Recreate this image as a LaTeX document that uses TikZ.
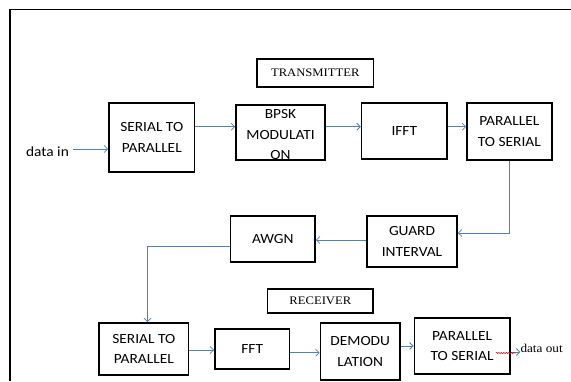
\documentclass[tikz,border=0pt]{standalone}
\usepackage{fontspec}
\usepackage{xcolor}
\usepackage{tikz}
\usetikzlibrary{arrows.meta,decorations.pathmorphing}
\newfontfamily\calib{Carlito}[FakeStretch=1.1]
\newfontfamily\timesf{Liberation Serif}[FakeStretch=1.1]
\definecolor{linkblue}{HTML}{4F81BD}

\begin{document}
\begin{tikzpicture}[x=1pt, y=-1pt,
  blk/.style={draw, line width=1.6pt, inner sep=0pt, align=center, font=\calib\fontsize{14}{20.5}\selectfont},
  hdr/.style={draw, line width=1.4pt, inner sep=0pt, font=\timesf\fontsize{11.5}{14}\selectfont},
  flow/.style={draw=linkblue, line width=0.8pt, -{Straight Barb[length=3.5pt,width=7pt]}},
  tag/.style={inner sep=0pt}
]
\useasboundingbox (0,0) rectangle (571,381);
\draw[line width=1.2pt] (10,381) -- (10,9.3) -- (571,9.3);

\node[hdr, minimum width=116.6pt, minimum height=28pt] (ttx) at (315.3,73) {TRANSMITTER};
\node[blk, minimum width=85.5pt, minimum height=69pt] (stp1) at (151.75,137.5) {SERIAL TO\\PARALLEL};
\node[blk, minimum width=89pt, minimum height=53pt] (bpsk) at (280.5,132.5) {\rule{0pt}{14pt}BPSK\\MODULATI\\ON};
\node[blk, minimum width=85.4pt, minimum height=56pt] (ifft) at (404.3,131) {IFFT};
\node[blk, minimum width=84.7pt, minimum height=57pt] (pts1) at (509.35,131.5) {PARALLEL\\TO SERIAL};
\node[blk, minimum width=90pt, minimum height=51pt] (guard) at (412,241.5) {GUARD\\INTERVAL};
\node[blk, minimum width=84.5pt, minimum height=46pt] (awgn) at (272.75,239) {AWGN};

\node[hdr, minimum width=105.3pt, minimum height=24pt] (trx) at (320.35,301) {RECEIVER};
\node[blk, minimum width=89.6pt, minimum height=52pt] (stp2) at (143.8,349) {SERIAL TO\\PARALLEL};
\node[blk, minimum width=74.5pt, minimum height=40pt] (fft) at (252.25,349) {FFT};
\node[blk, minimum width=79.5pt, minimum height=57pt] (demod) at (360.25,351.5) {DEMODU\\LATION};
\node[blk, minimum width=95.4pt, minimum height=56pt] (pts2) at (462.1,346) {PARALLEL\\TO SERIAL};

\node[tag, font=\calib\fontsize{14}{16}\selectfont] (datain) at (47.5,152) {data in};
\node[tag, font=\timesf\fontsize{12}{14}\selectfont] (dataout) at (541.6,348) {data out};

\draw[flow] ([xshift=4pt,yshift=3pt]datain.east) -- ([yshift=-11.5pt]stp1.west);
\draw[flow] ([yshift=10.8pt]stp1.east) -- ([yshift=5.8pt]bpsk.west);
\draw[flow] ([yshift=5.8pt]bpsk.east) -- ([yshift=4.3pt]ifft.west);
\draw[flow] ([yshift=4.3pt]ifft.east) -- ([yshift=4.8pt]pts1.west);
\draw[flow] (pts1.south) |- ([yshift=8.5pt]guard.east);
\draw[flow] ([yshift=1.5pt]guard.west) -- ([yshift=-1pt]awgn.east);
\draw[flow] ([yshift=-7pt]awgn.west) -| ([xshift=3.7pt]stp2.north);
\draw[flow] ([yshift=-1pt]stp2.east) -- ([yshift=-1pt]fft.west);
\draw[flow] ([yshift=-3.7pt]fft.east) -- ([yshift=-1.2pt]demod.west);
\draw[flow] ([yshift=5.5pt]demod.east) -- (pts2.west);
\draw[flow] ([yshift=-6pt]pts2.east) -- ([yshift=-4pt]dataout.west);

\draw[red, line width=0.5pt, decorate, decoration={snake, amplitude=0.7pt, segment length=2.5pt}]
  ([xshift=-15pt,yshift=-7pt]pts2.east) -- ([xshift=5pt,yshift=-7pt]pts2.east);
\end{tikzpicture}
\end{document}
